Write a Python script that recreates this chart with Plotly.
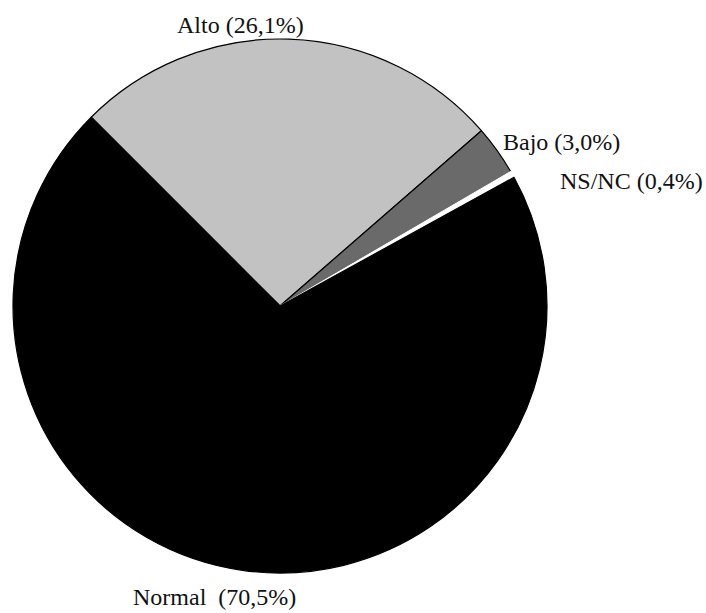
import plotly.graph_objects as go

labels = ["Alto", "Bajo", "NS/NC", "Normal"]
values = [26.1, 3.0, 0.4, 70.5]
label_texts = ["Alto (26,1%)", "Bajo (3,0%)", "NS/NC (0,4%)", "Normal\u00a0 (70,5%)"]

W, H = 706, 613
colors = ["#c2c2c2", "#6a6a6a", "#ffffff", "#000000"]
line_colors = ["#000000", "#000000", "#ffffff", "#000000"]

cx, cy, r = 280, 306, 267
fig = go.Figure(go.Pie(
    labels=labels, values=values, sort=False, direction="clockwise",
    rotation=-45, textinfo="none", hoverinfo="label+percent",
    marker=dict(colors=colors, line=dict(color=line_colors, width=1.2)),
    domain=dict(x=[(cx - r) / W, (cx + r) / W], y=[(H - cy - r) / H, (H - cy + r) / H]),
    showlegend=False,
))

pos = [(240, 25), (561, 142), (631, 181), (214, 597)]
for t, (px, py) in zip(label_texts, pos):
    fig.add_annotation(x=px / W, y=1 - py / H, xref="paper", yref="paper",
                       text=t, showarrow=False, xanchor="center", yanchor="middle",
                       font=dict(family="Liberation Serif", size=24, color="#111111"))

fig.update_layout(width=W, height=H, margin=dict(l=0, r=0, t=0, b=0),
                  paper_bgcolor="white", plot_bgcolor="white")
fig.write_html("out.html", config={"displayModeBar": False},
               post_script="document.body.style.margin='0';document.body.style.overflow='hidden';")
